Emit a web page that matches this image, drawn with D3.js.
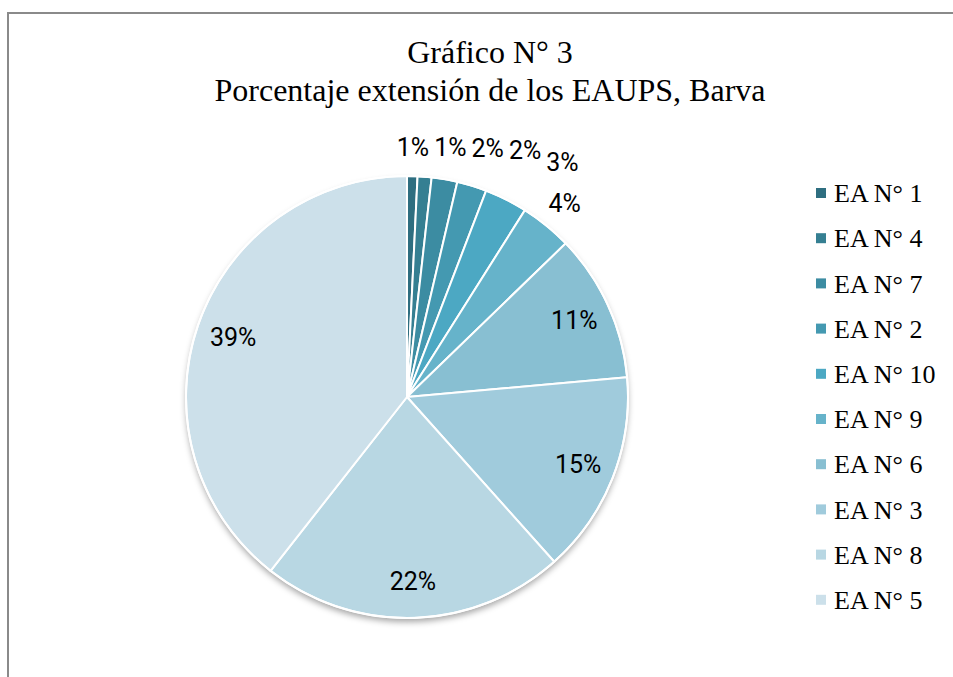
<!DOCTYPE html>
<html>
<head>
<meta charset="utf-8">
<script src="https://cdn.jsdelivr.net/npm/d3@7"></script>
<style>
  body { margin: 0; background: #fff; }
  svg { display: block; }
</style>
</head>
<body>
<div id="chart"></div>
<script>
var categories = ["EA N° 1", "EA N° 4", "EA N° 7", "EA N° 2", "EA N° 10", "EA N° 9", "EA N° 6", "EA N° 3", "EA N° 8", "EA N° 5"];
var values = [0.76, 1.02, 1.88, 2.17, 3.13, 3.8, 10.82, 14.81, 22.2, 39.41];
var labels = ["1%", "1%", "2%", "2%", "3%", "4%", "11%", "15%", "22%", "39%"];
var colors = ["#2e6e80", "#357f92", "#3c8ca2", "#4499b1", "#4ca8c3", "#66b3ca", "#88bfd2", "#a0cbdc", "#b8d7e3", "#cce0ea"];
var titleLines = ["Gráfico N° 3", "Porcentaje extensión de los EAUPS, Barva"];

var width = 953, height = 677;
var cx = 407, cy = 397, radius = 221;

var svg = d3.select("#chart").append("svg").attr("width", width).attr("height", height);

// chart frame (only left and top visible in the reference)
svg.append("path").attr("d", "M8,677 L8,13 L953,13")
    .attr("fill", "none").attr("stroke", "#8a8a8a").attr("stroke-width", 2);

var defs = svg.append("defs");
var shadow = defs.append("filter").attr("id", "shadow")
    .attr("x", "-10%").attr("y", "-10%").attr("width", "120%").attr("height", "125%");
shadow.append("feDropShadow").attr("dx", 0).attr("dy", 4).attr("stdDeviation", 3)
    .attr("flood-color", "#000").attr("flood-opacity", 0.35);

// title
svg.append("g").selectAll("text").data(titleLines).enter().append("text")
    .attr("x", 490).attr("y", function(d, i) { return 63 + i * 38; })
    .attr("text-anchor", "middle")
    .style("font-family", "'Liberation Serif', 'Times New Roman', serif")
    .style("font-size", "32px").style("fill", "#000")
    .text(function(d) { return d; });

var color = d3.scaleOrdinal().domain(categories).range(colors);
var pie = d3.pie().sort(null).value(function(d) { return d.value; });
var data = categories.map(function(c, i) { return { name: c, value: values[i], label: labels[i] }; });
var arcs = pie(data);
var arc = d3.arc().innerRadius(0).outerRadius(radius);

var g = svg.append("g").attr("transform", "translate(" + cx + "," + cy + ")");

g.append("circle").attr("r", radius).attr("fill", "#fff").attr("filter", "url(#shadow)");

g.selectAll("path.slice").data(arcs).enter().append("path")
    .attr("class", "slice")
    .attr("d", arc)
    .attr("fill", function(d) { return color(d.data.name); })
    .attr("stroke", "#fff").attr("stroke-width", 2).attr("stroke-linejoin", "round");

g.append("circle").attr("r", radius).attr("fill", "none").attr("stroke", "#fff").attr("stroke-width", 2);

// labels: big slices inside, small ones outside
var mid = function(d) { return (d.startAngle + d.endAngle) / 2; };
var insideR = 184, outsideR = 250, lblH = 24, lblGap = 5;
var items = arcs.map(function(d) {
    var a = mid(d), inside = d.data.value >= 8, r = inside ? insideR : outsideR;
    return { d: d, inside: inside, x: Math.sin(a) * r, y: -Math.cos(a) * r };
});

var lbl = g.selectAll("text.lbl").data(items).enter().append("text")
    .attr("class", "lbl")
    .attr("dy", "0.35em")
    .attr("text-anchor", "middle")
    .style("font-family", "Roboto, 'Noto Sans', sans-serif")
    .style("font-size", "25px").style("fill", "#000")
    .text(function(o) { return o.d.data.label; })
    .each(function(o) { o.w = this.getComputedTextLength(); });

// outside labels crowd at the top: slide each one right (and a bit up toward the
// one it collides with) until it clears the ones before it
var outs = items.filter(function(o) { return !o.inside; });
for (var k = 1; k < outs.length; k++) {
    for (var j = 0; j < k; j++) {
        var p = outs[j], o = outs[k];
        var minX = p.x + (p.w + o.w) / 2 + lblGap;
        if (Math.abs(o.y - p.y) < lblH && o.x < minX) {
            o.x = minX;
            o.y = (o.y + p.y) / 2;
        }
    }
}

lbl.attr("x", function(o) { return o.x; }).attr("y", function(o) { return o.y; });

// legend
var legend = svg.append("g").attr("transform", "translate(816,193)");
var rows = legend.selectAll("g").data(categories).enter().append("g")
    .attr("transform", function(d, i) { return "translate(0," + (i * 45.2) + ")"; });
rows.append("rect").attr("x", 0).attr("y", -5).attr("width", 10).attr("height", 10)
    .attr("fill", function(d) { return color(d); });
rows.append("text").attr("x", 18).attr("y", 0).attr("dy", "0.35em")
    .style("font-family", "'Liberation Serif', 'Times New Roman', serif")
    .style("font-size", "26px").style("fill", "#000")
    .text(function(d) { return d; });
</script>
</body>
</html>
